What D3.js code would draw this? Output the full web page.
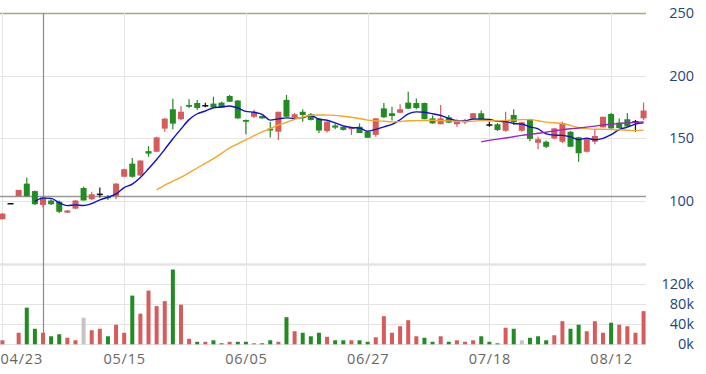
<!DOCTYPE html>
<html>
<head>
<meta charset="utf-8">
<script src="https://d3js.org/d3.v7.min.js"></script>
<style>
  body { margin: 0; background: #fff; }
  svg text { font-family: "Open Sans", sans-serif; }
</style>
</head>
<body>
<div id="main"></div>
<script>
// daily candles, one entry per trading day (80 days)
var tickIdx = [0, 15, 30, 45, 60, 75];
var tickLabels = ["04/23", "05/15", "06/05", "06/27", "07/18", "08/12"];

var open = [85, 98, 103.5, 113.5, 107.5, 96.5, 100, 99, 90.3, 93.5,
  110, 101, 105.5, 103, 103.5, 119, 129.5, 120, 139.5, 139,
  157.5, 173, 165, 176.4, 178, 176.4, 177.5, 178.3, 183.6, 180,
  164.4, 167, 167.6, 157.5, 155, 180.5, 166.5, 171, 169, 165.5,
  155.5, 160, 159, 157, 159, 155, 152.5, 173.7, 169.8, 170.2,
  178.3, 178, 178, 165.7, 161, 166.6, 161, 162.5, 165.7, 169.8,
  161, 161, 155.8, 168.4, 155.8, 165, 146.2, 147, 149.7, 147,
  155, 150.6, 139, 147, 158.5, 169.2, 162.3, 165, 163.5, 165.7];
var high = [90, 98, 108.5, 118.5, 108, 103, 101, 100, 92.5, 100.5,
  111, 107, 110.5, 104.5, 114, 125.5, 134, 132, 143.5, 151,
  166, 181.5, 175.5, 181, 180.5, 178.3, 183, 179, 184.5, 180.5,
  164.8, 172.7, 168, 163, 171, 184.5, 170, 173, 170, 166,
  163.5, 161.7, 159.5, 158.5, 161.7, 155.5, 166, 178, 175, 177,
  187, 181.7, 178.3, 168, 176.4, 168.5, 165, 165.5, 170, 172,
  163, 162, 171, 173, 163, 165.5, 151, 148, 158, 163,
  155.5, 151, 149.5, 157, 167, 170, 165.7, 169.8, 164.4, 178.3];
var low = [85, 98, 103.5, 103, 96.5, 94.5, 96.5, 90, 90, 93,
  100, 100.5, 102.5, 100.5, 101, 119, 118.5, 119.5, 135, 139,
  155, 157, 164.5, 174, 172.5, 174.6, 174.3, 174, 179, 165.5,
  153, 166, 165.5, 150.5, 148.5, 167, 166, 163, 164, 154,
  154.5, 157, 156, 152.5, 154, 150, 151, 166, 164, 170,
  173.3, 173, 165, 161.5, 161, 162, 159, 161, 165, 165,
  159, 155.5, 155, 160.4, 155, 147.5, 141, 142, 149, 146,
  143, 131, 138.5, 145, 158.5, 157.5, 157.5, 159, 155, 164.4];
var close = [89.5, 98, 108.5, 103.5, 97, 102.5, 97, 91, 92, 100,
  100, 105, 105.5, 102.5, 113.5, 125, 119, 132, 137.5, 150.5,
  165.5, 161.5, 171, 175, 174, 176.4, 174.5, 174.3, 179, 165.7,
  163, 171, 165.7, 156, 171, 167, 169, 168.4, 164.5, 156,
  163, 158.3, 156.5, 158.3, 154, 150.2, 165.7, 166.6, 167.6, 173,
  173.5, 174, 165, 161.7, 165.7, 162.3, 164, 164.5, 169.8, 165,
  161, 156.4, 163.2, 162.6, 162.6, 149.3, 149, 143, 157.7, 161.7,
  143, 137.8, 149, 151.6, 167, 157.7, 158, 159.2, 163.5, 172];
var volume = [8000, 0, 23000, 73000, 31000, 23000, 16000, 20000, 13000, 8000,
  53000, 28000, 31000, 16000, 39000, 23000, 97000, 61000, 107000, 76000,
  86000, 149000, 79000, 11000, 5000, 5000, 8000, 2000, 5000, 5000,
  5000, 2000, 2000, 8000, 5000, 54000, 26000, 23000, 16000, 23000,
  15000, 8000, 8000, 8000, 8000, 5000, 14000, 56000, 23000, 36000,
  48000, 16000, 13000, 5000, 16000, 5000, 8000, 5000, 8000, 16000,
  5000, 2000, 33000, 31000, 8000, 13000, 16000, 8000, 18000, 46000,
  31000, 39000, 26000, 46000, 23000, 43000, 39000, 36000, 23000, 66000];

var priceTicks = [100, 150, 200, 250];
var volTicks = [0, 40000, 80000, 120000, 160000];
var maDays = [5, 20, 60];
var maColors = ["#1010c8", "#f5a623", "#9b22c8"];
var refLine = 103.2;   // dark horizontal marker line
var crossIdx = 5;      // vertical marker on 04/29 candle

var upColor = "#d65c5c", downColor = "#228b22";

var width = 706, height = 374,
    plotW = 646;

var svg = d3.select("#main").append("svg")
    .attr("width", width)
    .attr("height", height);

var x = d3.scaleLinear().domain([-0.3, 79.3]).range([0, plotW]);
var y = d3.scaleLinear().domain([100, 250]).range([200.5, 13]);
var yv = d3.scaleLinear().domain([0, 160000]).range([344.3, 264]);

var data = close.map(function(c, i) {
  return {i: i, o: open[i], h: high[i], l: low[i], c: c, v: volume[i]};
});

// grid
var grid = svg.append("g");
grid.selectAll(".hg").data(priceTicks).enter().append("line")
    .attr("x1", 0).attr("x2", plotW)
    .attr("y1", function(d) { return Math.round(y(d)) + 0.5; })
    .attr("y2", function(d) { return Math.round(y(d)) + 0.5; })
    .attr("stroke", function(d) { return d == 250 ? "#aaa77a" : "#e4e4e4"; })
    .attr("stroke-width", function(d) { return d == 250 ? 1.5 : 1; });
grid.selectAll(".vg").data(volTicks).enter().append("line")
    .attr("x1", 0).attr("x2", plotW)
    .attr("y1", function(d) { return Math.round(yv(d)) + 0.5; })
    .attr("y2", function(d) { return Math.round(yv(d)) + 0.5; })
    .attr("stroke", "#e4e4e4")
    .attr("stroke-width", function(d) { return d == 160000 ? 2.5 : 1; });
grid.selectAll(".xg").data(tickIdx).enter().append("line")
    .attr("x1", function(d) { return Math.round(x(d)) + 0.5; })
    .attr("x2", function(d) { return Math.round(x(d)) + 0.5; })
    .attr("y1", 13).attr("y2", 344)
    .attr("stroke", "#e4e4e4");

// marker lines
svg.append("line")
    .attr("x1", 0).attr("x2", plotW)
    .attr("y1", y(refLine)).attr("y2", y(refLine))
    .attr("stroke", "#999").attr("stroke-width", 1.5);
svg.append("line")
    .attr("x1", Math.round(x(crossIdx)) + 0.5).attr("x2", Math.round(x(crossIdx)) + 0.5)
    .attr("y1", 13).attr("y2", 344)
    .attr("stroke", "#8a8a8a").attr("stroke-width", 1.2);

// volume bars, colour by change vs previous close
function volColor(d) {
  if (d.i == 0) return upColor;
  var p = close[d.i - 1];
  if (d.c > p) return upColor;
  if (d.c < p) return downColor;
  return "#c4c4c4";
}
svg.append("g").selectAll("rect")
    .data(data.filter(function(d) { return d.v > 0; }))
    .enter().append("rect")
    .attr("x", function(d) { return x(d.i) - 2; })
    .attr("width", 4)
    .attr("y", function(d) { return yv(d.v); })
    .attr("height", function(d) { return yv(0) - yv(d.v); })
    .attr("fill", volColor);

// candles
function candleColor(d) {
  if (d.c > d.o) return upColor;
  if (d.c < d.o) return downColor;
  return "#111";
}
var candle = svg.append("g").selectAll("g")
    .data(data).enter().append("g");
candle.append("line")
    .attr("x1", function(d) { return x(d.i); })
    .attr("x2", function(d) { return x(d.i); })
    .attr("y1", function(d) { return y(d.h); })
    .attr("y2", function(d) { return y(d.l); })
    .attr("stroke", candleColor)
    .attr("stroke-width", 1.2);
candle.append("rect")
    .attr("x", function(d) { return x(d.i) - 3; })
    .attr("width", 6)
    .attr("y", function(d) { return y(Math.max(d.o, d.c)); })
    .attr("height", function(d) { return Math.max(1.5, Math.abs(y(d.o) - y(d.c))); })
    .attr("fill", candleColor);

// moving averages
maDays.forEach(function(n, k) {
  var pts = [];
  for (var i = n - 1; i < close.length; i++) {
    pts.push({i: i, v: d3.mean(close.slice(i - n + 1, i + 1))});
  }
  svg.append("path")
      .datum(pts)
      .attr("fill", "none")
      .attr("stroke", maColors[k])
      .attr("stroke-width", 1.4)
      .attr("d", d3.line()
        .curve(d3.curveMonotoneX)
        .x(function(d) { return x(d.i); })
        .y(function(d) { return y(d.v); }));
});

// right axes
var pAxis = svg.append("g")
    .attr("transform", "translate(" + plotW + ",0)")
    .call(d3.axisRight(y).tickValues(priceTicks).tickSize(0));
var vAxis = svg.append("g")
    .attr("transform", "translate(" + plotW + ",0)")
    .call(d3.axisRight(yv).tickValues(volTicks.slice(0, 4)).tickSize(0)
      .tickFormat(function(d) { return (d / 1000) + "k"; }));
[pAxis, vAxis].forEach(function(a) {
  a.select(".domain").remove();
  a.selectAll("text")
      .attr("x", 48)
      .attr("text-anchor", "end")
      .attr("fill", "#24467c")
      .style("font-size", "14.5px");
});

// date axis
var xAxis = svg.append("g")
    .attr("transform", "translate(0,344)")
    .call(d3.axisBottom(x).tickValues(tickIdx).tickSize(0).tickPadding(10)
      .tickFormat(function(d, i) { return tickLabels[i]; }));
xAxis.select(".domain").remove();
xAxis.selectAll("text")
    .attr("fill", "#666")
    .style("font-size", "14.5px")
    .style("letter-spacing", "0.8px");
xAxis.select(".tick text").attr("text-anchor", "start").attr("x", -x(0));
</script>
</body>
</html>
